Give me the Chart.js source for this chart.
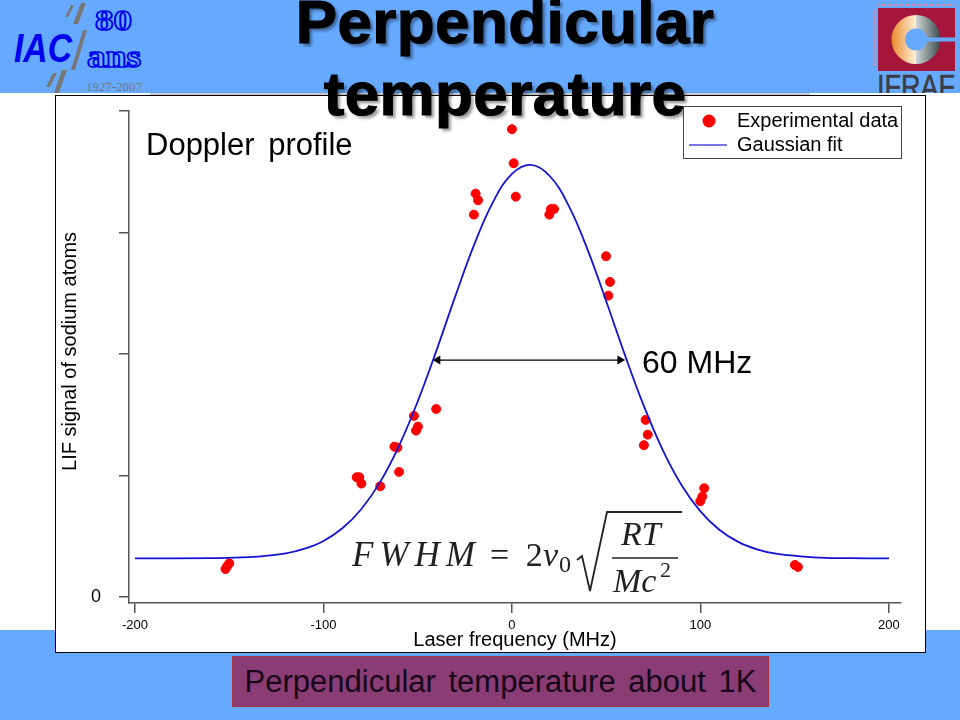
<!DOCTYPE html>
<html>
<head>
<meta charset="utf-8">
<title>Perpendicular temperature</title>
<script src="https://cdn.jsdelivr.net/npm/chart.js@4/dist/chart.umd.min.js"></script>
<style>
    html, body { margin: 0; padding: 0; background: #fff; }
    body { width: 960px; height: 720px; position: relative; overflow: hidden; font-family: "Liberation Sans", Arial, sans-serif; color: #000; }
    .abs { position: absolute; white-space: pre; }
    #top-band { position: absolute; left: 0; top: 0; width: 960px; height: 93px; background: #66aaff; overflow: hidden; }
    #top-rule { position: absolute; left: 150px; top: 93px; width: 660px; height: 2px; background: #c9c9c9; }
    #bottom-band { position: absolute; left: 0; top: 630px; width: 960px; height: 90px; background: #66aaff; }
    #box { position: absolute; left: 55px; top: 95px; width: 869px; height: 556px; background: #fff; border: 1px solid #000; }
    #chart-wrap { position: absolute; left: 0; top: 0; width: 960px; height: 720px; }
    #title { position: absolute; left: 205px; top: -14px; width: 600px; text-align: center; font-weight: bold; font-size: 62px; line-height: 71.5px; letter-spacing: 0.4px; -webkit-text-stroke: 1.2px #000; text-shadow: 3px 3px 3px rgba(0,0,0,0.4); }
    #legend { position: absolute; left: 683px; top: 106px; width: 217px; height: 51px; border: 1.5px solid #444; background: #fff; font-size: 20px; }
    #legend .row { position: absolute; left: 53px; white-space: pre; }
    #note { position: absolute; left: 232px; top: 656px; width: 535px; height: 49px; background: #8a3c74; border: 1px solid #a83240; text-align: center; font-size: 31px; line-height: 49px; word-spacing: 4px; color: #160818; }
    .serif { font-family: "Liberation Serif", "DejaVu Serif", serif; font-style: italic; color: #222; }
</style>
</head>
<body>
<div id="top-band">
    <svg width="960" height="93" style="position:absolute;left:0;top:0">
        <g fill="#777">
            <polygon points="81,3 86,3 78,24 73,24"/>
            <polygon points="71,5 74,5 68,17 65,17"/>
            <polygon points="83,30 87,30 75,70 71,70"/>
            <polygon points="62,70 67,70 59,93 54,93"/>
            <polygon points="53,73 57,73 50,87 46,87"/>
        </g>
        <text x="14" y="62" font-family="Liberation Sans" font-style="italic" font-weight="bold" font-size="40" fill="#0000ee" textLength="58" lengthAdjust="spacingAndGlyphs">IAC</text>
        <g font-family="Liberation Serif" font-weight="bold" fill="#66aaff" stroke="#0000ee" stroke-width="1.6">
            <text x="95" y="30" font-size="30" textLength="37" lengthAdjust="spacingAndGlyphs">80</text>
            <text x="87" y="67" font-size="32" textLength="54" lengthAdjust="spacingAndGlyphs">ans</text>
        </g>
        <text x="86" y="91" font-family="Liberation Serif" font-size="13" fill="#777" textLength="56" lengthAdjust="spacingAndGlyphs">1927-2007</text>

        <defs>
            <linearGradient id="ring-left" x1="0" x2="1" y1="0" y2="0">
                <stop offset="0" stop-color="#e88a2c"/><stop offset="1" stop-color="#fff0d8"/>
            </linearGradient>
            <linearGradient id="ring-right" x1="0" x2="1" y1="0" y2="0">
                <stop offset="0" stop-color="#cfd6d6"/><stop offset="1" stop-color="#3c4a4c"/>
            </linearGradient>
        </defs>
        <rect x="878" y="8" width="77" height="63" fill="#a5163a"/>
        <path d="M916 15 A24 24 0 0 0 916 64 Z" fill="url(#ring-left)"/>
        <path d="M916 15 A24 24 0 0 1 916 64 Z" fill="url(#ring-right)"/>
        <circle cx="916" cy="39.5" r="11" fill="#66aaff"/>
        <rect x="920" y="37.5" width="35" height="4" fill="#66aaff"/>
        <line x1="878" y1="5" x2="955" y2="5" stroke="#d98aa8" stroke-width="2" stroke-dasharray="2 1"/>
        <line x1="874" y1="10" x2="874" y2="66" stroke="#d98aa8" stroke-width="2" stroke-dasharray="2 1"/>
        <text x="877" y="98" font-family="Liberation Sans" font-size="34" fill="#3c3c44" stroke="#3c3c44" stroke-width="0.6" textLength="78" lengthAdjust="spacingAndGlyphs">IFRAF</text>
    </svg>
</div>
<div id="top-rule"></div>
<div id="bottom-band"></div>
<div id="box"></div>
<div id="chart-wrap"><canvas id="profileChart" width="960" height="720"></canvas></div>

<div class="abs" style="left:146px;top:127px;font-size:31px;word-spacing:5px">Doppler profile</div>
<div class="abs" style="left:642px;top:344px;font-size:32px">60 MHz</div>

<svg width="960" height="720" style="position:absolute;left:0;top:0">
    <path d="M577 560 L582 556 L590 591 L607 512 L682 512" fill="none" stroke="#222" stroke-width="1.8"/>
    <line x1="612" y1="558" x2="678" y2="558" stroke="#222" stroke-width="1.6"/>
</svg>
<div class="abs serif" style="left:352px;top:535px;font-size:35px;line-height:40px;letter-spacing:6px">FWHM</div>
<div class="abs serif" style="left:490px;top:535px;font-size:34px;line-height:40px;font-style:normal;word-spacing:8px">= 2</div>
<div class="abs serif" style="left:543px;top:535px;font-size:34px;line-height:40px">ν</div>
<div class="abs serif" style="left:559px;top:549px;font-size:24px;line-height:30px;font-style:normal">0</div>
<div class="abs serif" style="left:621px;top:514px;font-size:34px;line-height:40px">RT</div>
<div class="abs serif" style="left:613px;top:561px;font-size:34px;line-height:40px">Mc</div>
<div class="abs serif" style="left:660px;top:557px;font-size:22px;line-height:26px;font-style:normal">2</div>

<div id="title">Perpendicular<br>temperature</div>

<div id="legend">
    <svg width="50" height="51" style="position:absolute;left:0;top:0">
        <circle cx="25" cy="14" r="6.5" fill="#ff0000"/>
        <line x1="5" y1="38" x2="43" y2="38" stroke="#4a4ae0" stroke-width="1.5"/>
    </svg>
    <div class="row" id="legend-points" style="top:2px"></div>
    <div class="row" id="legend-line" style="top:26px"></div>
</div>
<div id="note">Perpendicular temperature about 1K</div>

<script>
const scatterName = 'Experimental data';
const fitName = 'Gaussian fit';
const xTicks = [-200, -100, 0, 100, 200];
const yTicks = [0, 1, 2, 3, 4];

const pointX = [0, 0.9, 2, -19.3, -18, -20.2, 22.3, 20.7, 19.8, 49.9, 52, 51.1, -40.2, -52, -49.9, -50.9, -62.4, -60.8, -59.9, -82.4, -81, -79.9, -69.9, 70.9, 72, 70, 102, 101, 99.9, -150, -151, -152, 150.1, 151.7];
const pointY = [3.85, 3.57, 3.295, 3.32, 3.265, 3.147, 3.193, 3.193, 3.147, 2.804, 2.593, 2.48, 1.547, 1.49, 1.402, 1.369, 1.237, 1.229, 1.029, 0.985, 0.985, 0.933, 0.911, 1.457, 1.336, 1.249, 0.895, 0.826, 0.788, 0.277, 0.255, 0.23, 0.263, 0.247];

const fitX = [-200, -160, -140, -120, -110, -100, -90, -80, -70, -60, -50, -40, -30, -20, -10, 0, 10, 20, 30, 40, 50, 60, 70, 80, 90, 100, 110, 120, 130, 140, 160, 180, 200];
const fitY = [0.317, 0.319, 0.327, 0.359, 0.397, 0.461, 0.565, 0.722, 0.945, 1.242, 1.61, 2.032, 2.478, 2.902, 3.252, 3.482, 3.556, 3.465, 3.223, 2.863, 2.434, 1.988, 1.57, 1.209, 0.92, 0.704, 0.553, 0.453, 0.392, 0.356, 0.326, 0.319, 0.317];

const arrowX = [-39.4, 57.3];
const arrowY = [1.95, 1.95];

const axisColor = '#555555';

document.getElementById('legend-points').textContent = scatterName;
document.getElementById('legend-line').textContent = fitName;

function zip(xs, ys) {
    return xs.map((x, i) => ({ x: x, y: ys[i] }));
}

new Chart(document.getElementById('profileChart').getContext('2d'), {
    type: 'scatter',
    data: {
        datasets: [
            {
                label: fitName,
                data: zip(fitX, fitY),
                showLine: true,
                borderColor: '#1414d8',
                borderWidth: 1.8,
                tension: 0.4,
                pointRadius: 0,
            },
            {
                label: scatterName,
                data: zip(pointX, pointY),
                backgroundColor: '#ff0000',
                borderColor: '#ff0000',
                pointRadius: 4.5,
            },
            {
                label: 'FWHM',
                data: zip(arrowX, arrowY),
                showLine: true,
                borderColor: '#000000',
                backgroundColor: '#000000',
                borderWidth: 1.2,
                pointStyle: 'triangle',
                pointRadius: 4,
                pointRotation: [-90, 90],
            },
        ],
    },
    options: {
        responsive: false,
        animation: false,
        layout: { padding: { left: 0, right: 59, top: 111, bottom: 0 } },
        plugins: { legend: { display: false }, tooltip: { enabled: false } },
        scales: {
            x: {
                type: 'linear',
                min: -203.2,
                max: 206.4,
                afterBuildTicks: (axis) => { axis.ticks = xTicks.map((v) => ({ value: v })); },
                afterFit: (axis) => { axis.height = 117; },
                border: { color: axisColor, width: 1.5 },
                grid: { drawOnChartArea: false, color: axisColor, lineWidth: 1.5, tickLength: 10 },
                ticks: { color: '#000', padding: 5, maxRotation: 0, font: { family: 'Liberation Sans', size: 13 } },
                title: { display: true, text: 'Laser frequency (MHz)', color: '#000', padding: { bottom: 68 }, font: { family: 'Liberation Sans', size: 20 } },
            },
            y: {
                type: 'linear',
                min: -0.05,
                max: 4,
                afterBuildTicks: (axis) => { axis.ticks = yTicks.map((v) => ({ value: v })); },
                afterFit: (axis) => { axis.width = 129; },
                border: { color: axisColor, width: 1.5 },
                grid: { drawOnChartArea: false, color: axisColor, lineWidth: 1.5, tickLength: 10 },
                ticks: {
                    color: '#000',
                    padding: 18,
                    font: { family: 'Liberation Sans', size: 18 },
                    callback: (value) => (value === 0 ? '0' : ''),
                },
                title: { display: true, text: '  LIF signal of sodium atoms', color: '#000', padding: { top: 58 }, font: { family: 'Liberation Sans', size: 20 } },
            },
        },
    },
});
</script>
</body>
</html>
